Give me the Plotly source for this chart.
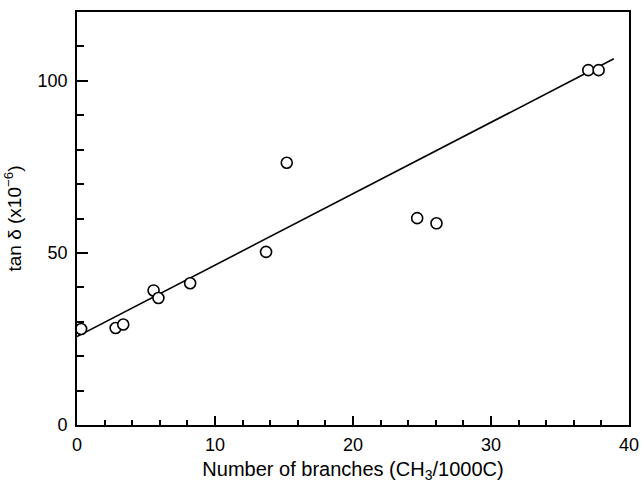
import plotly.graph_objects as go

# Data
branches = [0.3, 2.8, 3.35, 5.55, 5.9, 8.2, 13.7, 15.2, 24.65, 26.05, 37.05, 37.8]
tan_delta = [27.9, 28.2, 29.2, 39.1, 36.9, 41.2, 50.3, 76.2, 60.1, 58.6, 103.1, 103.1]

fit_x = [0.0, 38.9]
fit_y = [25.7, 106.4]

x_ticks = [0, 10, 20, 30, 40]
y_ticks = [0, 50, 100]

FONT = "Liberation Sans"

fig = go.Figure()
fig.add_trace(go.Scatter(
    x=fit_x, y=fit_y, mode="lines",
    line=dict(color="black", width=1.6),
    showlegend=False, hoverinfo="skip",
))
fig.add_trace(go.Scatter(
    x=branches, y=tan_delta, mode="markers",
    marker=dict(symbol="circle", size=11, color="white",
                line=dict(color="black", width=1.6)),
    showlegend=False, cliponaxis=False,
))

fig.update_layout(
    width=642, height=483,
    margin=dict(l=77, r=13, t=12, b=58),
    paper_bgcolor="white", plot_bgcolor="white",
    font=dict(family=FONT, size=18, color="black"),
)
fig.update_xaxes(
    range=[0, 40], tickvals=x_ticks, ticktext=[str(v) for v in x_ticks],
    ticks="inside", ticklen=9, tickwidth=1.5, tickcolor="black",
    tickfont=dict(size=18), ticklabelstandoff=2, automargin=False,
    minor=dict(dtick=2, tick0=0, ticks="inside", ticklen=5, tickwidth=1.5, tickcolor="black", showgrid=False),
    showline=True, linecolor="black", linewidth=1.8, mirror=True,
    showgrid=False, zeroline=False,
    title=dict(text="Number of branches (CH<sub>3</sub>/1000C)", font=dict(size=20), standoff=14),
)
fig.update_yaxes(
    range=[0, 120], tickvals=y_ticks, ticktext=[str(v) for v in y_ticks],
    ticks="inside", ticklen=11, tickwidth=1.5, tickcolor="black",
    tickfont=dict(size=18), ticklabelstandoff=4, automargin=False,
    minor=dict(dtick=10, tick0=0, ticks="inside", ticklen=7, tickwidth=1.5, tickcolor="black", showgrid=False),
    showline=True, linecolor="black", linewidth=1.8, mirror=True,
    showgrid=False, zeroline=False,
    title=dict(text="tan δ (x10<sup>−6</sup>)", font=dict(size=19), standoff=11),
)

fig.write_html("out.html")
